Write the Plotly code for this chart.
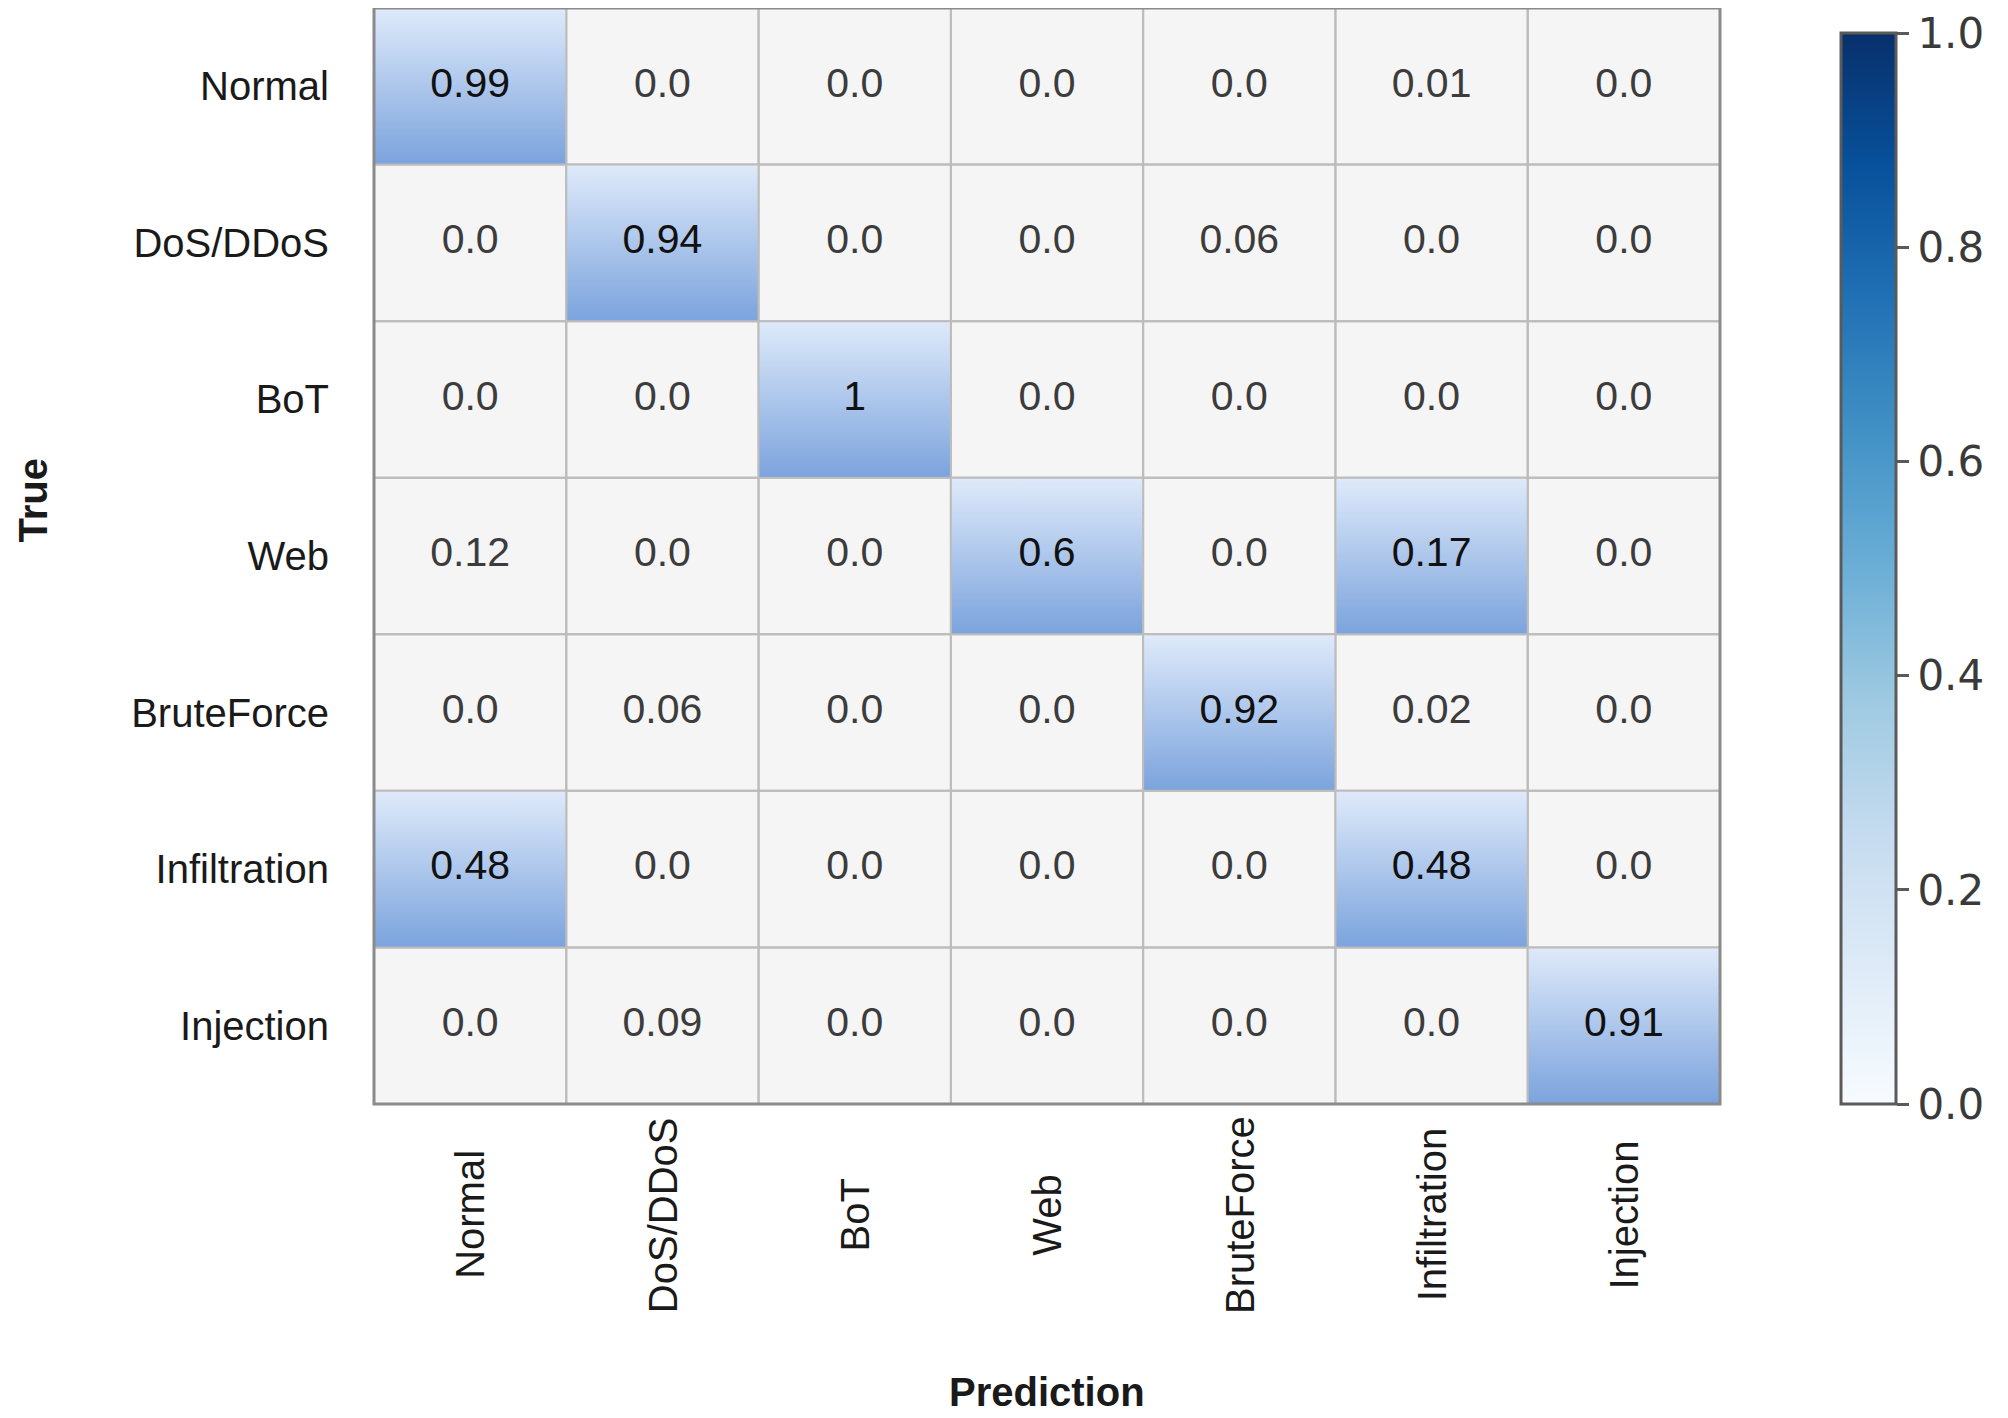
import plotly.graph_objects as go

# ---------------- data ----------------
true_labels = ["Normal", "DoS/DDoS", "BoT", "Web", "BruteForce", "Infiltration", "Injection"]
pred_labels = ["Normal", "DoS/DDoS", "BoT", "Web", "BruteForce", "Infiltration", "Injection"]

row_normal = [0.99, 0.0, 0.0, 0.0, 0.0, 0.01, 0.0]
row_dos = [0.0, 0.94, 0.0, 0.0, 0.06, 0.0, 0.0]
row_bot = [0.0, 0.0, 1, 0.0, 0.0, 0.0, 0.0]
row_web = [0.12, 0.0, 0.0, 0.6, 0.0, 0.17, 0.0]
row_brute = [0.0, 0.06, 0.0, 0.0, 0.92, 0.02, 0.0]
row_infil = [0.48, 0.0, 0.0, 0.0, 0.0, 0.48, 0.0]
row_inject = [0.0, 0.09, 0.0, 0.0, 0.0, 0.0, 0.91]

matrix = [row_normal, row_dos, row_bot, row_web, row_brute, row_infil, row_inject]

colorbar_ticks = [0.0, 0.2, 0.4, 0.6, 0.8, 1.0]
colorbar_ticktext = ["0.0", "0.2", "0.4", "0.6", "0.8", "1.0"]

# ---------------- style ----------------
HIGHLIGHT_MIN = 0.15
CELL_BG = "#f5f5f5"
GRAD_LIGHT = "#dfeafa"
GRAD_DARK = "#7ba3dd"
GRID = "#bcbcbc"
FONT = "Liberation Sans, Arial, sans-serif"


def fmt(v):
    return "0.0" if v == 0 else f"{v:g}"


n_rows = len(true_labels)
n_cols = len(pred_labels)

fig = go.Figure()

# heatmap carries the colour scale (cells are then painted over)
fig.add_trace(go.Heatmap(
    z=matrix,
    x=list(range(n_cols)),
    y=list(range(n_rows)),
    colorscale="Blues",
    zmin=0, zmax=1,
    hoverinfo="skip",
    colorbar=dict(
        x=1.0899, xanchor="left", xpad=0,
        y=0, yanchor="bottom", ypad=0,
        len=0.977, lenmode="fraction",
        thickness=55, thicknessmode="pixels",
        outlinewidth=3, outlinecolor="#5a5a5a",
        ticks="outside", ticklen=12, tickwidth=3, tickcolor="#5a5a5a",
        tickmode="array",
        tickvals=colorbar_ticks,
        ticktext=colorbar_ticktext,
        ticklabeloverflow="allow",
        tickfont=dict(family="DejaVu Sans", size=42, color="#3a3a3a"),
    ),
))

# plain grey cells in one trace
gx, gy = [], []
for i, row in enumerate(matrix):
    for j, v in enumerate(row):
        if v < HIGHLIGHT_MIN:
            gx += [j - 0.5, j + 0.5, j + 0.5, j - 0.5, j - 0.5, None]
            gy += [i - 0.5, i - 0.5, i + 0.5, i + 0.5, i - 0.5, None]
fig.add_trace(go.Scatter(
    x=gx, y=gy, mode="lines", fill="toself", fillcolor=CELL_BG,
    line=dict(color=GRID, width=2), hoverinfo="skip", showlegend=False,
))

# highlighted cells with a vertical gradient
for i, row in enumerate(matrix):
    for j, v in enumerate(row):
        if v >= HIGHLIGHT_MIN:
            fig.add_trace(go.Scatter(
                x=[j - 0.5, j + 0.5, j + 0.5, j - 0.5, j - 0.5],
                y=[i - 0.5, i - 0.5, i + 0.5, i + 0.5, i - 0.5],
                mode="lines", fill="toself",
                fillgradient=dict(
                    type="vertical", start=i - 0.5, stop=i + 0.5,
                    colorscale=[[0, GRAD_LIGHT], [1, GRAD_DARK]],
                ),
                line=dict(color=GRID, width=2),
                hoverinfo="skip", showlegend=False,
            ))

# cell values
tx, ty, tt, tc = [], [], [], []
for i, row in enumerate(matrix):
    for j, v in enumerate(row):
        tx.append(j)
        ty.append(i)
        tt.append(fmt(v))
        tc.append("#111111" if v >= HIGHLIGHT_MIN else "#3c3c3c")
fig.add_trace(go.Scatter(
    x=tx, y=ty, mode="text", text=tt,
    textfont=dict(family=FONT, size=41, color=tc),
    hoverinfo="skip", showlegend=False,
))

# x tick labels (rotated, centred)
annotations = []
for j, lab in enumerate(pred_labels):
    annotations.append(dict(
        x=j, xref="x", y=-0.101, yref="paper", text=lab, textangle=-90,
        showarrow=False, xanchor="center", yanchor="middle",
        font=dict(family=FONT, size=40, color="#1a1a1a"),
    ))

annotations.append(dict(
    x=0.5, xref="paper", y=-0.263, yref="paper", text="<b>Prediction</b>",
    showarrow=False, xanchor="center", yanchor="middle",
    font=dict(family=FONT, size=40, color="#1a1a1a"),
))
annotations.append(dict(
    x=-0.253, xref="paper", y=0.551, yref="paper", text="<b>True</b>",
    textangle=-90, showarrow=False, xanchor="center", yanchor="middle",
    font=dict(family=FONT, size=40, color="#1a1a1a"),
))

fig.update_layout(
    width=2000, height=1410,
    margin=dict(l=366, r=288, t=0, b=314, autoexpand=False),
    paper_bgcolor="white", plot_bgcolor="white",
    showlegend=False,
    annotations=annotations,
    xaxis=dict(range=[-0.5, n_cols - 0.5], showgrid=False, zeroline=False,
               showticklabels=False, ticks="", fixedrange=True),
    yaxis=dict(range=[n_rows - 0.5, -0.5], showgrid=False, zeroline=False,
               tickvals=list(range(n_rows)), ticktext=true_labels,
               ticks="outside", ticklen=36, tickcolor="rgba(0,0,0,0)",
               tickfont=dict(family=FONT, size=40, color="#1a1a1a"),
               fixedrange=True),
    shapes=[dict(type="rect", xref="paper", yref="paper", x0=0, x1=1, y0=0, y1=1,
                 line=dict(color="#8a8a8a", width=3), fillcolor="rgba(0,0,0,0)",
                 layer="above")],
)

fig.write_html("out.html")
